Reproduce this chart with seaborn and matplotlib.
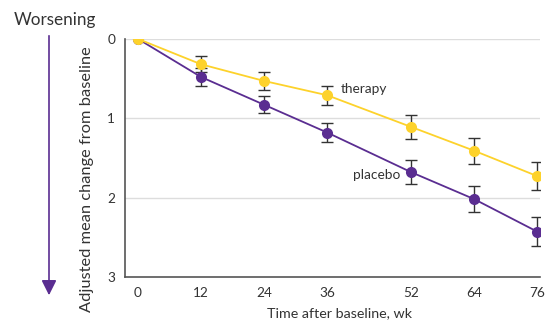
import numpy as np
import pandas as pd
import seaborn as sns
import matplotlib.pyplot as plt

# ---------- data ----------
weeks = [0, 12, 24, 36, 52, 64, 76]
therapy = [0.0, 0.32, 0.53, 0.71, 1.11, 1.41, 1.73]
therapy_err = [0.0, 0.10, 0.11, 0.12, 0.15, 0.165, 0.18]
placebo = [0.0, 0.48, 0.83, 1.18, 1.68, 2.02, 2.43]
placebo_err = [0.0, 0.11, 0.11, 0.12, 0.15, 0.165, 0.18]

df = pd.DataFrame({
    "week": weeks * 2,
    "change": therapy + placebo,
    "err": therapy_err + placebo_err,
    "group": ["therapy"] * 7 + ["placebo"] * 7,
})

colors = {"therapy": "#FDD22B", "placebo": "#5A2D91"}

sns.set_style("white")
plt.rcParams["font.family"] = ["Lato", "DejaVu Sans"]

fig = plt.figure(figsize=(5.45, 3.24), dpi=100)
ax = fig.add_axes([0.229, 0.145, 0.762, 0.735])

# gridlines
for g in [0, 1, 2]:
    ax.axhline(g, color="#dddddd", lw=1, zorder=0)

# error bars first, then lines/markers on top
for grp in ["placebo", "therapy"]:
    sub = df[(df.group == grp) & (df.week > 0)]
    ax.errorbar(sub.week, sub.change, yerr=sub.err, fmt="none",
                ecolor="#333333", elinewidth=1, capsize=4, capthick=1, zorder=2)

sns.lineplot(data=df, x="week", y="change", hue="group", palette=colors,
             hue_order=["placebo", "therapy"], marker="o", markersize=8,
             markeredgewidth=0, lw=1.3, legend=False, ax=ax, zorder=3)

ax.set_xlim(-2.5, 76.5)
ax.set_ylim(3, 0)
ax.set_xticks(weeks)
ax.set_yticks([0, 1, 2, 3])
ax.tick_params(axis="both", length=4, width=1, color="#555555",
               labelsize=9.8, labelcolor="#333333", pad=3)
for s in ["top", "right"]:
    ax.spines[s].set_visible(False)
for s in ["left", "bottom"]:
    ax.spines[s].set_color("#555555")
    ax.spines[s].set_linewidth(1.2)

ax.set_xlabel("Time after baseline, wk", fontsize=10.3, color="#333333")
ax.xaxis.set_label_coords((340 - 125) / 415, -(313 - 277) / 238)
ax.xaxis.label.set_va("center")
ax.set_ylabel("Adjusted mean change from baseline", fontsize=11.8,
              color="#333333")
ax.yaxis.set_label_coords(-(125 - 87) / 415, (277 - 179) / 238)
ax.yaxis.label.set_va("center")

ax.text(38.5, 0.63, "therapy", fontsize=9.8, color="#333333", ha="left", va="center")
ax.text(50, 1.72, "placebo", fontsize=9.8, color="#333333", ha="right", va="center")

# "Worsening" arrow
fig.text(55 / 545, 1 - 20 / 324, "Worsening", fontsize=12.3, color="#333333",
         ha="center", va="center")
fig.add_artist(plt.matplotlib.patches.FancyArrowPatch(
    (49 / 545, 1 - 33 / 324), (49 / 545, 1 - 298 / 324),
    transform=fig.transFigure, arrowstyle="-|>,head_length=6,head_width=3",
    color="#5A2D91", lw=1.2, mutation_scale=1.5))

fig.savefig("out.png", dpi=100)
